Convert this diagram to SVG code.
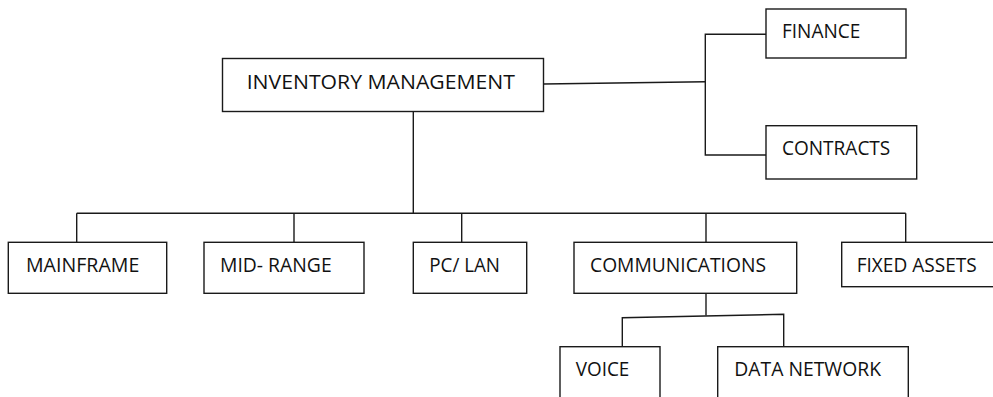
<svg xmlns="http://www.w3.org/2000/svg" width="993" height="397" viewBox="0 0 993 397">
<style>
.box{fill:#fff;stroke:#1a1a1a;stroke-width:1.4}
.lbl{font-family:"Open Sans","Liberation Sans",sans-serif;font-size:19.5px;fill:#111}
.conn{fill:none;stroke:#1a1a1a;stroke-width:1.4}
</style>
<rect width="993" height="397" fill="#fff"/>
<g id="connectors">
<path class="conn" d="M413.3,111.5V213.3"/>
<path class="conn" d="M76.7,213.3H905.7"/>
<path class="conn" d="M76.7,213.3V242.3M294,213.3V242.3M461.7,213.3V242.3M706,213.3V242.3M905.7,213.3V242.3"/>
<path class="conn" d="M543.5,84L705.3,81.7"/>
<path class="conn" d="M766,34.3H705.3V155H766"/>
<path class="conn" d="M706,293.3V315.5"/>
<path class="conn" d="M622.3,346.7V317.7L783.7,314.3V346.7"/>
</g>
<g id="inventory-management">
<rect class="box" x="222.5" y="58.5" width="321" height="53"/>
<text class="lbl" x="246.7" y="89.3" textLength="268.3" lengthAdjust="spacingAndGlyphs">INVENTORY MANAGEMENT</text>
</g>
<g id="finance">
<rect class="box" x="766" y="9" width="140" height="49"/>
<text class="lbl" x="782" y="37.7" textLength="78.3" lengthAdjust="spacingAndGlyphs">FINANCE</text>
</g>
<g id="contracts">
<rect class="box" x="766" y="125.7" width="150.7" height="53.3"/>
<text class="lbl" x="782" y="155" textLength="108.3" lengthAdjust="spacingAndGlyphs">CONTRACTS</text>
</g>
<g id="mainframe">
<rect class="box" x="8.3" y="242.3" width="158.4" height="51"/>
<text class="lbl" x="26" y="271.7" textLength="113.3" lengthAdjust="spacingAndGlyphs">MAINFRAME</text>
</g>
<g id="mid-range">
<rect class="box" x="204" y="242.3" width="160" height="51"/>
<text class="lbl" x="220" y="271.7" textLength="111.7" lengthAdjust="spacingAndGlyphs">MID- RANGE</text>
</g>
<g id="pc-lan">
<rect class="box" x="413.3" y="242.3" width="113.4" height="51"/>
<text class="lbl" x="429.3" y="271.7" textLength="70.7" lengthAdjust="spacingAndGlyphs">PC/ LAN</text>
</g>
<g id="communications">
<rect class="box" x="574" y="242.3" width="222.7" height="51"/>
<text class="lbl" x="590" y="271.7" textLength="176" lengthAdjust="spacingAndGlyphs">COMMUNICATIONS</text>
</g>
<g id="fixed-assets">
<rect class="box" x="841.7" y="242.3" width="160" height="44.4"/>
<text class="lbl" x="856.7" y="271.7" textLength="120" lengthAdjust="spacingAndGlyphs">FIXED ASSETS</text>
</g>
<g id="voice">
<rect class="box" x="560" y="346.7" width="100" height="60"/>
<text class="lbl" x="575.7" y="376" textLength="53.6" lengthAdjust="spacingAndGlyphs">VOICE</text>
</g>
<g id="data-network">
<rect class="box" x="717.7" y="346.7" width="190.6" height="60"/>
<text class="lbl" x="734.3" y="376" textLength="146.7" lengthAdjust="spacingAndGlyphs">DATA NETWORK</text>
</g>
</svg>
